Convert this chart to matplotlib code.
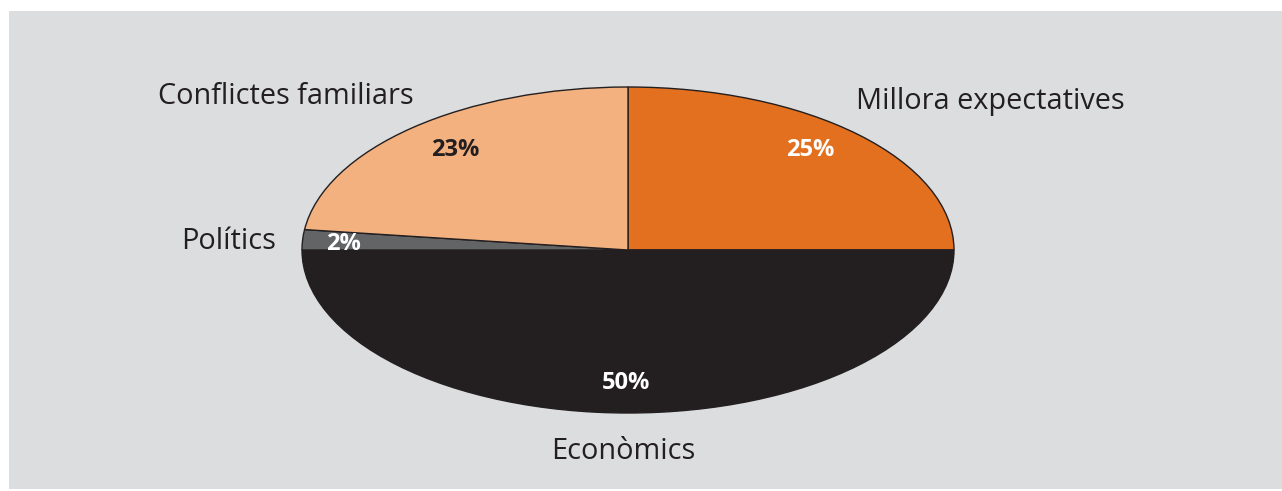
import matplotlib
matplotlib.use("Agg")
import matplotlib.pyplot as plt
from matplotlib.patches import Rectangle

categories = ["Millora expectatives", "Econòmics", "Polítics", "Conflictes familiars"]
values = [25, 50, 2, 23]
colors = ["#E3701E", "#231F20", "#636466", "#F3B17F"]
pct_colors = ["white", "white", "white", "#231F20"]

# label anchor points (data units of the unit pie)
label_pos = [(1.110, 0.908), (-0.015, -1.239), (-1.224, 0.055), (-1.049, 0.939)]
pct_pos = [(0.558, 0.613), (-0.006, -0.816), (-0.874, 0.037), (-0.531, 0.613)]

W, H = 1282, 491
fig = plt.figure(figsize=(W / 100, H / 100), dpi=100)
fig.patch.set_facecolor("white")

# grey panel behind the chart
fig.patches.append(Rectangle((9 / W, 0.004), 1 - 9 / W, 1 - 11 / H - 0.004,
                             transform=fig.transFigure, facecolor="#DCDDDF",
                             edgecolor="none", zorder=-10))

ax = fig.add_axes([0, 0, 1, 1])
ax.set_zorder(5)
ax.set_facecolor("none")
ax.pie(values, colors=colors, startangle=90, counterclock=False,
       wedgeprops=dict(edgecolor="#231F20", linewidth=1.0))
ax.set_aspect("auto")
cx, cy, rx, ry = 628, 250, 326, 163
ax.set_xlim(-cx / rx, (W - cx) / rx)
ax.set_ylim(-(H - cy) / ry, cy / ry)
ax.axis("off")

for name, (x, y) in zip(categories, label_pos):
    ax.text(x, y, name, ha="center", va="center", fontsize=20.8,
            family="Open Sans", color="#231F20")

for v, c, (x, y) in zip(values, pct_colors, pct_pos):
    ax.text(x, y, f"{v}%", ha="center", va="center", fontsize=17,
            family="Open Sans", fontweight="bold", color=c)

fig.savefig("out.png", dpi=100, facecolor=fig.get_facecolor())
